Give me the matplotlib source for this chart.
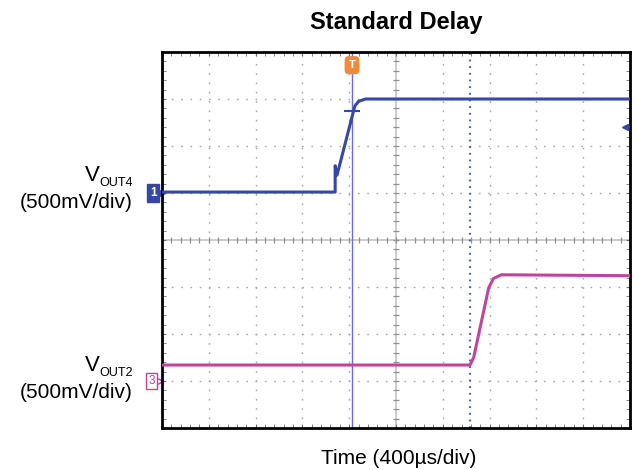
import numpy as np
import matplotlib.pyplot as plt
from matplotlib import transforms

plt.rcParams['font.family'] = ['Liberation Sans', 'DejaVu Sans']

# scope screen, in divisions (400 us/div, 500 mV/div)
n_xdiv = 10
n_ydiv = 8

# channel 1 (VOUT4)
t_out4 = [0.0, 3.70, 3.70, 3.74, 4.12, 4.20, 4.35, 10.0]
v_out4 = [1.02, 1.02, 1.58, 1.38, 2.85, 2.95, 3.0, 3.0]
# channel 3 (VOUT2)
t_out2 = [0.0, 6.58, 6.66, 6.98, 7.08, 7.25, 10.0]
v_out2 = [-2.66, -2.66, -2.50, -1.02, -0.82, -0.74, -0.76]

cursor_solid = 4.06
cursor_dotted = 6.58
ch1_marker = 1.0
ch3_marker = -3.0
right_arrow = 2.4
cross_mark = 2.74

blue = '#3548a8'
pink = '#c0449c'

fig = plt.figure(figsize=(6.38, 4.70), dpi=100)
ax = fig.add_axes([162 / 638, 1 - 428 / 470, 468 / 638, 376 / 470])
ax.set_xlim(0, n_xdiv)
ax.set_ylim(-n_ydiv / 2, n_ydiv / 2)

# grid
for gx in range(1, n_xdiv):
    if gx == n_xdiv // 2:
        continue
    ax.axvline(gx, color='#a8a8a8', lw=1, dashes=(1.2, 5.5), zorder=1)
for gy in range(-n_ydiv // 2 + 1, n_ydiv // 2):
    if gy == 0:
        continue
    ax.axhline(gy, color='#a8a8a8', lw=1, dashes=(1.2, 5.5), zorder=1)
ax.axvline(n_xdiv / 2, color='#c4c4c4', lw=1.2, zorder=1)
ax.axhline(0, color='#c4c4c4', lw=1.2, zorder=1)
sub = np.arange(0, n_xdiv + 0.01, 0.2)
ax.plot(sub, np.zeros_like(sub), ls='none', marker='|', ms=5, color='#909090', mew=0.9, zorder=1)
sub_y = np.arange(-n_ydiv / 2, n_ydiv / 2 + 0.01, 0.2)
ax.plot(np.full_like(sub_y, n_xdiv / 2), sub_y, ls='none', marker='_', ms=5, color='#909090', mew=0.9, zorder=1)

# frame ticks
ax.set_xticks(range(0, n_xdiv + 1))
ax.set_yticks(range(-n_ydiv // 2, n_ydiv // 2 + 1))
ax.set_xticks(sub, minor=True)
ax.set_yticks(sub_y, minor=True)
ax.tick_params(which='both', direction='in', top=True, right=True, length=3,
               color='#707070', labelbottom=False, labelleft=False)
for s in ax.spines.values():
    s.set_linewidth(2)
    s.set_color('black')

# cursors
ax.axvline(cursor_solid, color='#6c6cd4', lw=1, zorder=2)
ax.axvline(cursor_dotted, color='#4f5fc4', lw=1.6, dashes=(0.8, 2.2), zorder=2)

# traces
ax.plot(t_out4, v_out4, color=blue, lw=2.2, zorder=3)
ax.plot(t_out2, v_out2, color=pink, lw=2.2, zorder=3)
ax.plot([cursor_solid], [cross_mark], marker='_', ms=11, mew=1.5, color=blue, zorder=4)

# channel markers
tr = transforms.blended_transform_factory(ax.transAxes, ax.transData)
ax.text(-0.019, ch1_marker, '1', transform=tr, ha='center', va='center', fontsize=8.5,
        fontweight='bold', color='white', clip_on=False,
        bbox=dict(boxstyle='square,pad=0.22', fc=blue, ec=blue))
ax.plot([-0.003], [ch1_marker], transform=tr, marker='>', ms=6, color=blue, clip_on=False)
ax.text(-0.022, ch3_marker, '3', transform=tr, ha='center', va='center', fontsize=8.5,
        color=pink, clip_on=False,
        bbox=dict(boxstyle='square,pad=0.18', fc='white', ec=pink, lw=1))
ax.plot([-0.006], [ch3_marker], transform=tr, marker='>', ms=6, mfc='white', mec=pink,
        clip_on=False)
ax.text(cursor_solid, 3.72, 'T', ha='center', va='center', fontsize=8, fontweight='bold',
        color='white', bbox=dict(boxstyle='round,pad=0.3', fc='#f08a3c', ec='#f08a3c'),
        zorder=5)
ax.plot([9.9], [right_arrow], marker='<', ms=5, color=blue, zorder=4)
ax.plot([9.9, 9.97], [right_arrow, right_arrow], color=blue, lw=1.5, zorder=4)

# labels
fig.text(396 / 638, 1 - 23 / 470, 'Standard Delay', ha='center', va='center',
         fontsize=17, fontweight='bold')
fig.text(399 / 638, 1 - 458 / 470, 'Time (400µs/div)', ha='center', va='center', fontsize=15)
for vy, py, name in [(181, 203, 'OUT4'), (371, 393, 'OUT2')]:
    fig.text(100 / 638, 1 - vy / 470, 'V', ha='right', va='baseline', fontsize=16)
    fig.text(133 / 638, 1 - (vy + 5) / 470, name, ha='right', va='baseline', fontsize=9)
    fig.text(133 / 638, 1 - py / 470, '(500mV/div)', ha='right', va='center', fontsize=15)

fig.savefig('out.png', dpi=100)
